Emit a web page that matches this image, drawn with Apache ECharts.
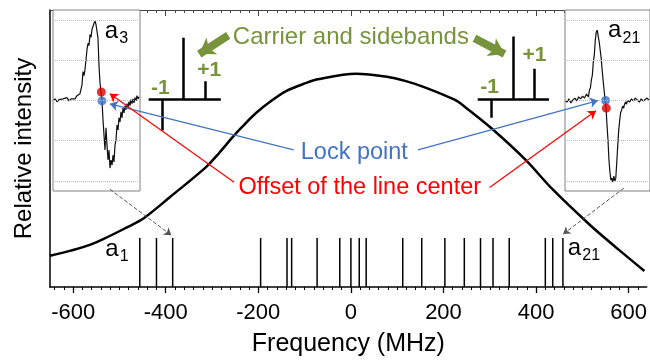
<!DOCTYPE html>
<html><head><meta charset="utf-8">
<script src="https://cdn.jsdelivr.net/npm/echarts@6/dist/echarts.min.js"></script>
<style>html,body{margin:0;padding:0;background:#fff}#c{width:650px;height:362px}</style>
</head><body><div id="c"></div>
<script>
// ---- data ----
const lineFreqs = [-456, -420, -385, -195, -138, -128, -73, -24, 0, 18, 33, 112, 153, 203, 245, 280, 307, 342, 420, 436, 458];
const lineHeights = [17.7, 17.7, 17.7, 17.7, 17.7, 17.7, 17.7, 17.7, 17.7, 17.7, 17.7, 17.7, 17.7, 17.7, 17.7, 17.7, 17.7, 17.7, 17.7, 17.7, 17.7];
const curveFreqs = [-650, -564, -478, -446, -392, -313, -285, -255, -235, -205, -171, -139, -98, -72, 11, 78, 117, 161, 224, 245, 303, 378, 436, 517, 579, 634];
const curveValues = [11.3, 15.2, 22.0, 25.0, 32.3, 43.3, 48.3, 54.2, 57.8, 62.8, 67.3, 70.8, 73.6, 75.0, 77.0, 75.9, 74.4, 72.0, 67.6, 65.2, 57.4, 45.8, 35.2, 22.3, 13.4, 5.8];
const tickLabels = [-600, -400, -200, 0, 200, 400, 600];

const insetLeftX = [0,2,4,6,8,10,12,14,16,18,20,22,24,26,27,28,29,30,31,32,33,34,35,36,37,38,39,40,41,42,43,44,45,46,47,48,49,50,51,52,53,54,55,56,57,58,59,60,61,62,63,64,65,66,67,68,69,70,71,72,73,74,75,76,77,78,79,80,81,82,83,84,85,86];
const insetLeftY = [-0.01,0.04,-0.03,0.02,-0.01,0.04,0.02,0.07,-0.01,0.04,0.07,0.04,0.12,0.09,0.17,0.14,0.39,0.72,0.62,0.77,1.02,1.27,1.42,1.37,1.64,1.57,1.77,1.84,1.92,1.97,1.89,1.92,1.55,0.85,0.45,0.2,-0.01,-0.48,-0.86,-1.23,-0.68,-1.11,-1.48,-1.23,-1.68,-1.48,-1.61,-1.36,-1.53,-1.11,-0.98,-0.61,-0.73,-0.43,-0.53,-0.28,-0.43,-0.18,-0.31,-0.13,-0.23,-0.08,-0.18,-0.03,-0.13,0.02,-0.08,0.04,-0.06,0.07,-0.01,0.12,0.04,0.09];
const insetRightX = [0,2,4,6,8,10,12,14,16,18,20,22,24,25,26,27,28,29,30,31,32,33,34,35,36,37,38,39,40,41,42,43,44,45,46,47,48,49,50,51,52,53,54,55,56,57,58,59,60,61,62,63,64,66,68,70,72,74,76,78,80,82,84,86];
const insetRightY = [0.01,-0.04,0.04,-0.06,0.01,0.06,-0.01,0.09,0.04,0.11,0.06,0.16,0.09,0.26,0.31,0.51,0.63,0.96,1.13,1.5,1.7,1.75,1.6,1.46,1.26,1.06,0.76,0.51,0.26,0.01,-0.19,-0.61,-0.98,-1.48,-1.78,-1.98,-1.93,-2.03,-1.88,-2.0,-1.93,-1.53,-1.11,-0.73,-0.49,-0.29,-0.24,-0.14,-0.19,-0.09,-0.04,-0.09,0.01,-0.04,0.04,-0.01,0.06,0.01,-0.04,0.04,-0.01,0.01,0.06,0.01];
const insetGridValues = [-2, -1, 0, 1, 2];
const leftLockPoint = [49, -0.01];
const leftOffsetPoint = [48.3, 0.21];
const rightLockPoint = [41.5, 0];
const rightOffsetPoint = [42.3, -0.19];

// annotation anchors in main-axis units [MHz, relative intensity]
const leftSticks = [[[-437, 67.6], [-281, 67.6]], [[-361.5, 67.6], [-361.5, 90.0]], [[-315, 67.6], [-315, 74.3]], [[-406.6, 67.6], [-406.6, 56.5]]];
const rightSticks = [[[274, 67.9], [428, 67.9]], [[350.5, 67.9], [350.5, 90.4]], [[395.6, 67.9], [395.6, 78.8]], [[302.4, 67.9], [302.4, 61.1]]];
const greenArrows = [[[-265, 90.8], [-327.6, 84.1]], [[267, 89.8], [331.8, 84.1]]];
const blueArrows = [[[-123.6, 49.5], [-520.7, 66.1]], [[144.9, 49.5], [533.6, 67.3]]];
const redArrows = [[[-252.3, 37.8], [-520.7, 69.8]], [[299.6, 35.9], [529.4, 63.6]]];
const dashedArrows = [[[-520.7, 35.3], [-387.9, 18.7]], [[589.7, 35.7], [458.5, 19.1]]];

const GREEN = '#77933C', BLUE = '#4472C4', RED = '#FF0000';
const FONT = '"Liberation Sans", Arial, sans-serif';
const annoTexts = [
  { at: [0, 90.1], text: 'Carrier and sidebands', color: GREEN, size: 24, weight: 'normal' },
  { at: [7.4, 48.4], text: 'Lock point', color: BLUE, size: 23.5, weight: 'normal' },
  { at: [19.2, 36.0], text: 'Offset of the line center', color: RED, size: 23.5, weight: 'normal' },
  { at: [-411.5, 71.7], text: '-1', color: GREEN, size: 21, weight: 'bold' },
  { at: [-306.2, 78.1], text: '+1', color: GREEN, size: 21, weight: 'bold' },
  { at: [299.6, 72.1], text: '-1', color: GREEN, size: 21, weight: 'bold' },
  { at: [396.3, 83.7], text: '+1', color: GREEN, size: 21, weight: 'bold' }
];
const subLabels = [
  { at: [-530.8, 13.6], sub: '1' },
  { at: [468.4, 13.9], sub: '21' },
  { at: [-531.8, 92.4], sub: '3' },
  { at: [555.5, 92.5], sub: '21' }
];

const minorTicks = [];
for (let v = -640; v <= 620; v += 20) minorTicks.push(v);

const chart = echarts.init(document.getElementById('c'), null, { renderer: 'canvas' });

function segData(list) { return list.map(s => ({ coords: s })); }

const option = {
  animation: false,
  backgroundColor: '#fff',
  textStyle: { fontFamily: FONT },
  grid: [
    { left: 50, right: 0, top: 10, bottom: 69 },
    { left: 53, top: 10, width: 87, height: 181, show: true, backgroundColor: '#fff', borderColor: '#808080', borderWidth: 1, z: 1 },
    { left: 565, top: 10, width: 87, height: 181, show: true, backgroundColor: '#fff', borderColor: '#808080', borderWidth: 1, z: 1 }
  ],
  xAxis: [
    { type: 'value', gridIndex: 0, min: -650, max: 639, position: 'bottom',
      axisLine: { onZero: false, lineStyle: { color: '#000', width: 1.5 } },
      axisTick: { customValues: tickLabels, length: 6, lineStyle: { color: '#000', width: 1.3 } },
      axisLabel: { customValues: tickLabels, fontSize: 22, color: '#000', margin: 15, fontFamily: FONT },
      splitLine: { show: false },
      name: 'Frequency (MHz)', nameLocation: 'middle', nameGap: 45,
      nameTextStyle: { fontSize: 25, color: '#000', fontFamily: FONT } },
    { type: 'value', gridIndex: 0, min: -650, max: 639, position: 'bottom',
      axisLine: { show: false, onZero: false },
      axisTick: { customValues: minorTicks, length: 3, lineStyle: { color: '#000', width: 1 } },
      axisLabel: { show: false }, splitLine: { show: false } },
    { type: 'value', gridIndex: 0, min: -650, max: 639, position: 'top',
      axisLine: { onZero: false, lineStyle: { color: '#444', width: 1 } },
      axisTick: { inside: true, customValues: minorTicks, length: 3, lineStyle: { color: '#444', width: 1 } },
      axisLabel: { show: false }, splitLine: { show: false } },
    { type: 'value', gridIndex: 0, min: -650, max: 639, position: 'top',
      axisLine: { show: false, onZero: false },
      axisTick: { inside: true, customValues: tickLabels, length: 6, lineStyle: { color: '#444', width: 1 } },
      axisLabel: { show: false }, splitLine: { show: false } },
    { type: 'value', gridIndex: 1, min: 0, max: 87, show: false },
    { type: 'value', gridIndex: 2, min: 0, max: 87, show: false }
  ],
  yAxis: [
    { type: 'value', gridIndex: 0, min: 0, max: 100,
      axisLine: { show: true, onZero: false, lineStyle: { color: '#000', width: 1.5 } },
      axisTick: { show: false }, axisLabel: { show: false }, splitLine: { show: false },
      name: 'Relative intensity', nameLocation: 'middle', nameGap: 14,
      nameTextStyle: { fontSize: 24, color: '#000', fontFamily: FONT } },
    { type: 'value', gridIndex: 1, min: -2.25, max: 2.25, show: false },
    { type: 'value', gridIndex: 2, min: -2.25, max: 2.25, show: false }
  ],
  series: [
    { type: 'bar', xAxisIndex: 0, yAxisIndex: 0, barWidth: 1.5,
      itemStyle: { color: '#000' },
      data: lineFreqs.map((f, i) => [f, lineHeights[i]]) },
    { type: 'line', xAxisIndex: 0, yAxisIndex: 0, smooth: 0.3, symbol: 'none',
      lineStyle: { color: '#000', width: 2.5 },
      data: curveFreqs.map((f, i) => [f, curveValues[i]]) },
    { type: 'line', xAxisIndex: 4, yAxisIndex: 1, symbol: 'none', z: 3,
      lineStyle: { color: '#111', width: 1.2 },
      data: insetLeftX.map((x, i) => [x, insetLeftY[i]]),
      markLine: { silent: true, symbol: 'none', label: { show: false },
        lineStyle: { type: 'dotted', color: '#bbb', width: 1 },
        data: insetGridValues.map(v => ({ yAxis: v })) } },
    { type: 'line', xAxisIndex: 5, yAxisIndex: 2, symbol: 'none', z: 3,
      lineStyle: { color: '#111', width: 1.2 },
      data: insetRightX.map((x, i) => [x, insetRightY[i]]),
      markLine: { silent: true, symbol: 'none', label: { show: false },
        lineStyle: { type: 'dotted', color: '#bbb', width: 1 },
        data: insetGridValues.map(v => ({ yAxis: v })) } },
    { type: 'scatter', xAxisIndex: 4, yAxisIndex: 1, symbolSize: 9, z: 4,
      data: [{ value: leftOffsetPoint, itemStyle: { color: '#E00000' } }, { value: leftLockPoint, itemStyle: { color: '#3F6FC6' } }] },
    { type: 'scatter', xAxisIndex: 5, yAxisIndex: 2, symbolSize: 9, z: 4,
      data: [{ value: rightLockPoint, itemStyle: { color: '#3F6FC6' } }, { value: rightOffsetPoint, itemStyle: { color: '#E00000' } }] },
    { type: 'lines', coordinateSystem: 'cartesian2d', xAxisIndex: 0, yAxisIndex: 0, z: 5,
      symbol: 'none', lineStyle: { color: '#000', width: 2.5, opacity: 1, curveness: 0 },
      data: segData(leftSticks.concat(rightSticks)) },
    { type: 'lines', coordinateSystem: 'cartesian2d', xAxisIndex: 0, yAxisIndex: 0, z: 5,
      symbol: ['none', 'arrow'], symbolSize: [18, 15],
      lineStyle: { color: GREEN, width: 8, opacity: 1, curveness: 0 },
      data: segData(greenArrows) },
    { type: 'lines', coordinateSystem: 'cartesian2d', xAxisIndex: 0, yAxisIndex: 0, z: 6,
      symbol: ['none', 'arrow'], symbolSize: 8,
      lineStyle: { color: BLUE, width: 1.2, opacity: 1, curveness: 0 },
      data: segData(blueArrows) },
    { type: 'lines', coordinateSystem: 'cartesian2d', xAxisIndex: 0, yAxisIndex: 0, z: 6,
      symbol: ['none', 'arrow'], symbolSize: 8,
      lineStyle: { color: RED, width: 1.2, opacity: 1, curveness: 0 },
      data: segData(redArrows) },
    { type: 'lines', coordinateSystem: 'cartesian2d', xAxisIndex: 0, yAxisIndex: 0, z: 5,
      symbol: ['none', 'arrow'], symbolSize: 7,
      lineStyle: { color: '#555', width: 1, type: 'dashed', opacity: 1, curveness: 0 },
      data: segData(dashedArrows) }
  ]
};
chart.setOption(option);

function px(p) { return chart.convertToPixel({ xAxisIndex: 0, yAxisIndex: 0 }, p); }
const graphics = [];
annoTexts.forEach(t => {
  const p = px(t.at);
  graphics.push({ type: 'text', x: p[0], y: p[1], z: 100,
    style: { text: t.text, fill: t.color, fontSize: t.size, fontWeight: t.weight, fontFamily: FONT, align: 'center', verticalAlign: 'middle' } });
});
subLabels.forEach(s => {
  const p = px(s.at);
  graphics.push({ type: 'text', x: p[0], y: p[1], z: 100,
    style: { text: 'a', fill: '#000', fontSize: 24, fontFamily: FONT, align: 'left', verticalAlign: 'middle' } });
  graphics.push({ type: 'text', x: p[0] + 14.5, y: p[1] + 7.5, z: 100,
    style: { text: s.sub, fill: '#000', fontSize: 16, fontFamily: FONT, align: 'left', verticalAlign: 'middle' } });
});
chart.setOption({ graphic: graphics });
</script>
</body></html>
